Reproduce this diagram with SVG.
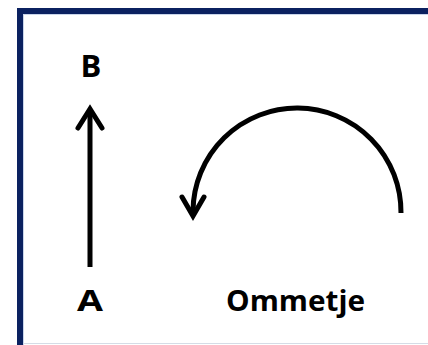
<svg xmlns="http://www.w3.org/2000/svg" width="428" height="345" viewBox="0 0 428 345">
<style>
.lbl{font-family:"Open Sans","Liberation Sans",sans-serif;font-weight:bold;fill:#000;text-anchor:middle}
.ln{fill:none;stroke:#000;stroke-width:5}
</style>
<rect x="0" y="0" width="428" height="345" fill="#fff"/>
<g id="frame">
<rect x="17" y="8" width="6" height="337" fill="#0b2160"/>
<rect x="17" y="8" width="411" height="6" fill="#0b2160"/>
<line x1="23.5" y1="14" x2="23.5" y2="345" stroke="#c9d5ea" stroke-width="1"/>
<line x1="23" y1="14.5" x2="428" y2="14.5" stroke="#c9d5ea" stroke-width="1"/>
<line x1="23" y1="343.5" x2="428" y2="343.5" stroke="#d5dce6" stroke-width="1"/>
</g>
<g id="connectors">
<line class="ln" x1="90" y1="267" x2="90" y2="111"/>
<polyline class="ln" points="78,128 90,109 102,128" stroke-linejoin="miter" stroke-linecap="round"/>
<path class="ln" d="M 401 213 A 104 104 0 0 0 193 211"/>
<polyline class="ln" points="182,197 193,216 204,197" stroke-linejoin="miter" stroke-linecap="round"/>
</g>
<g id="node-B"><text class="lbl" x="91" y="77" font-size="31">B</text></g>
<g id="node-A"><text class="lbl" x="90" y="311" font-size="28" textLength="26" lengthAdjust="spacingAndGlyphs">A</text></g>
<g id="node-Ommetje"><text class="lbl" x="295.5" y="311" font-size="28" textLength="139" lengthAdjust="spacingAndGlyphs">Ommetje</text></g>
</svg>
